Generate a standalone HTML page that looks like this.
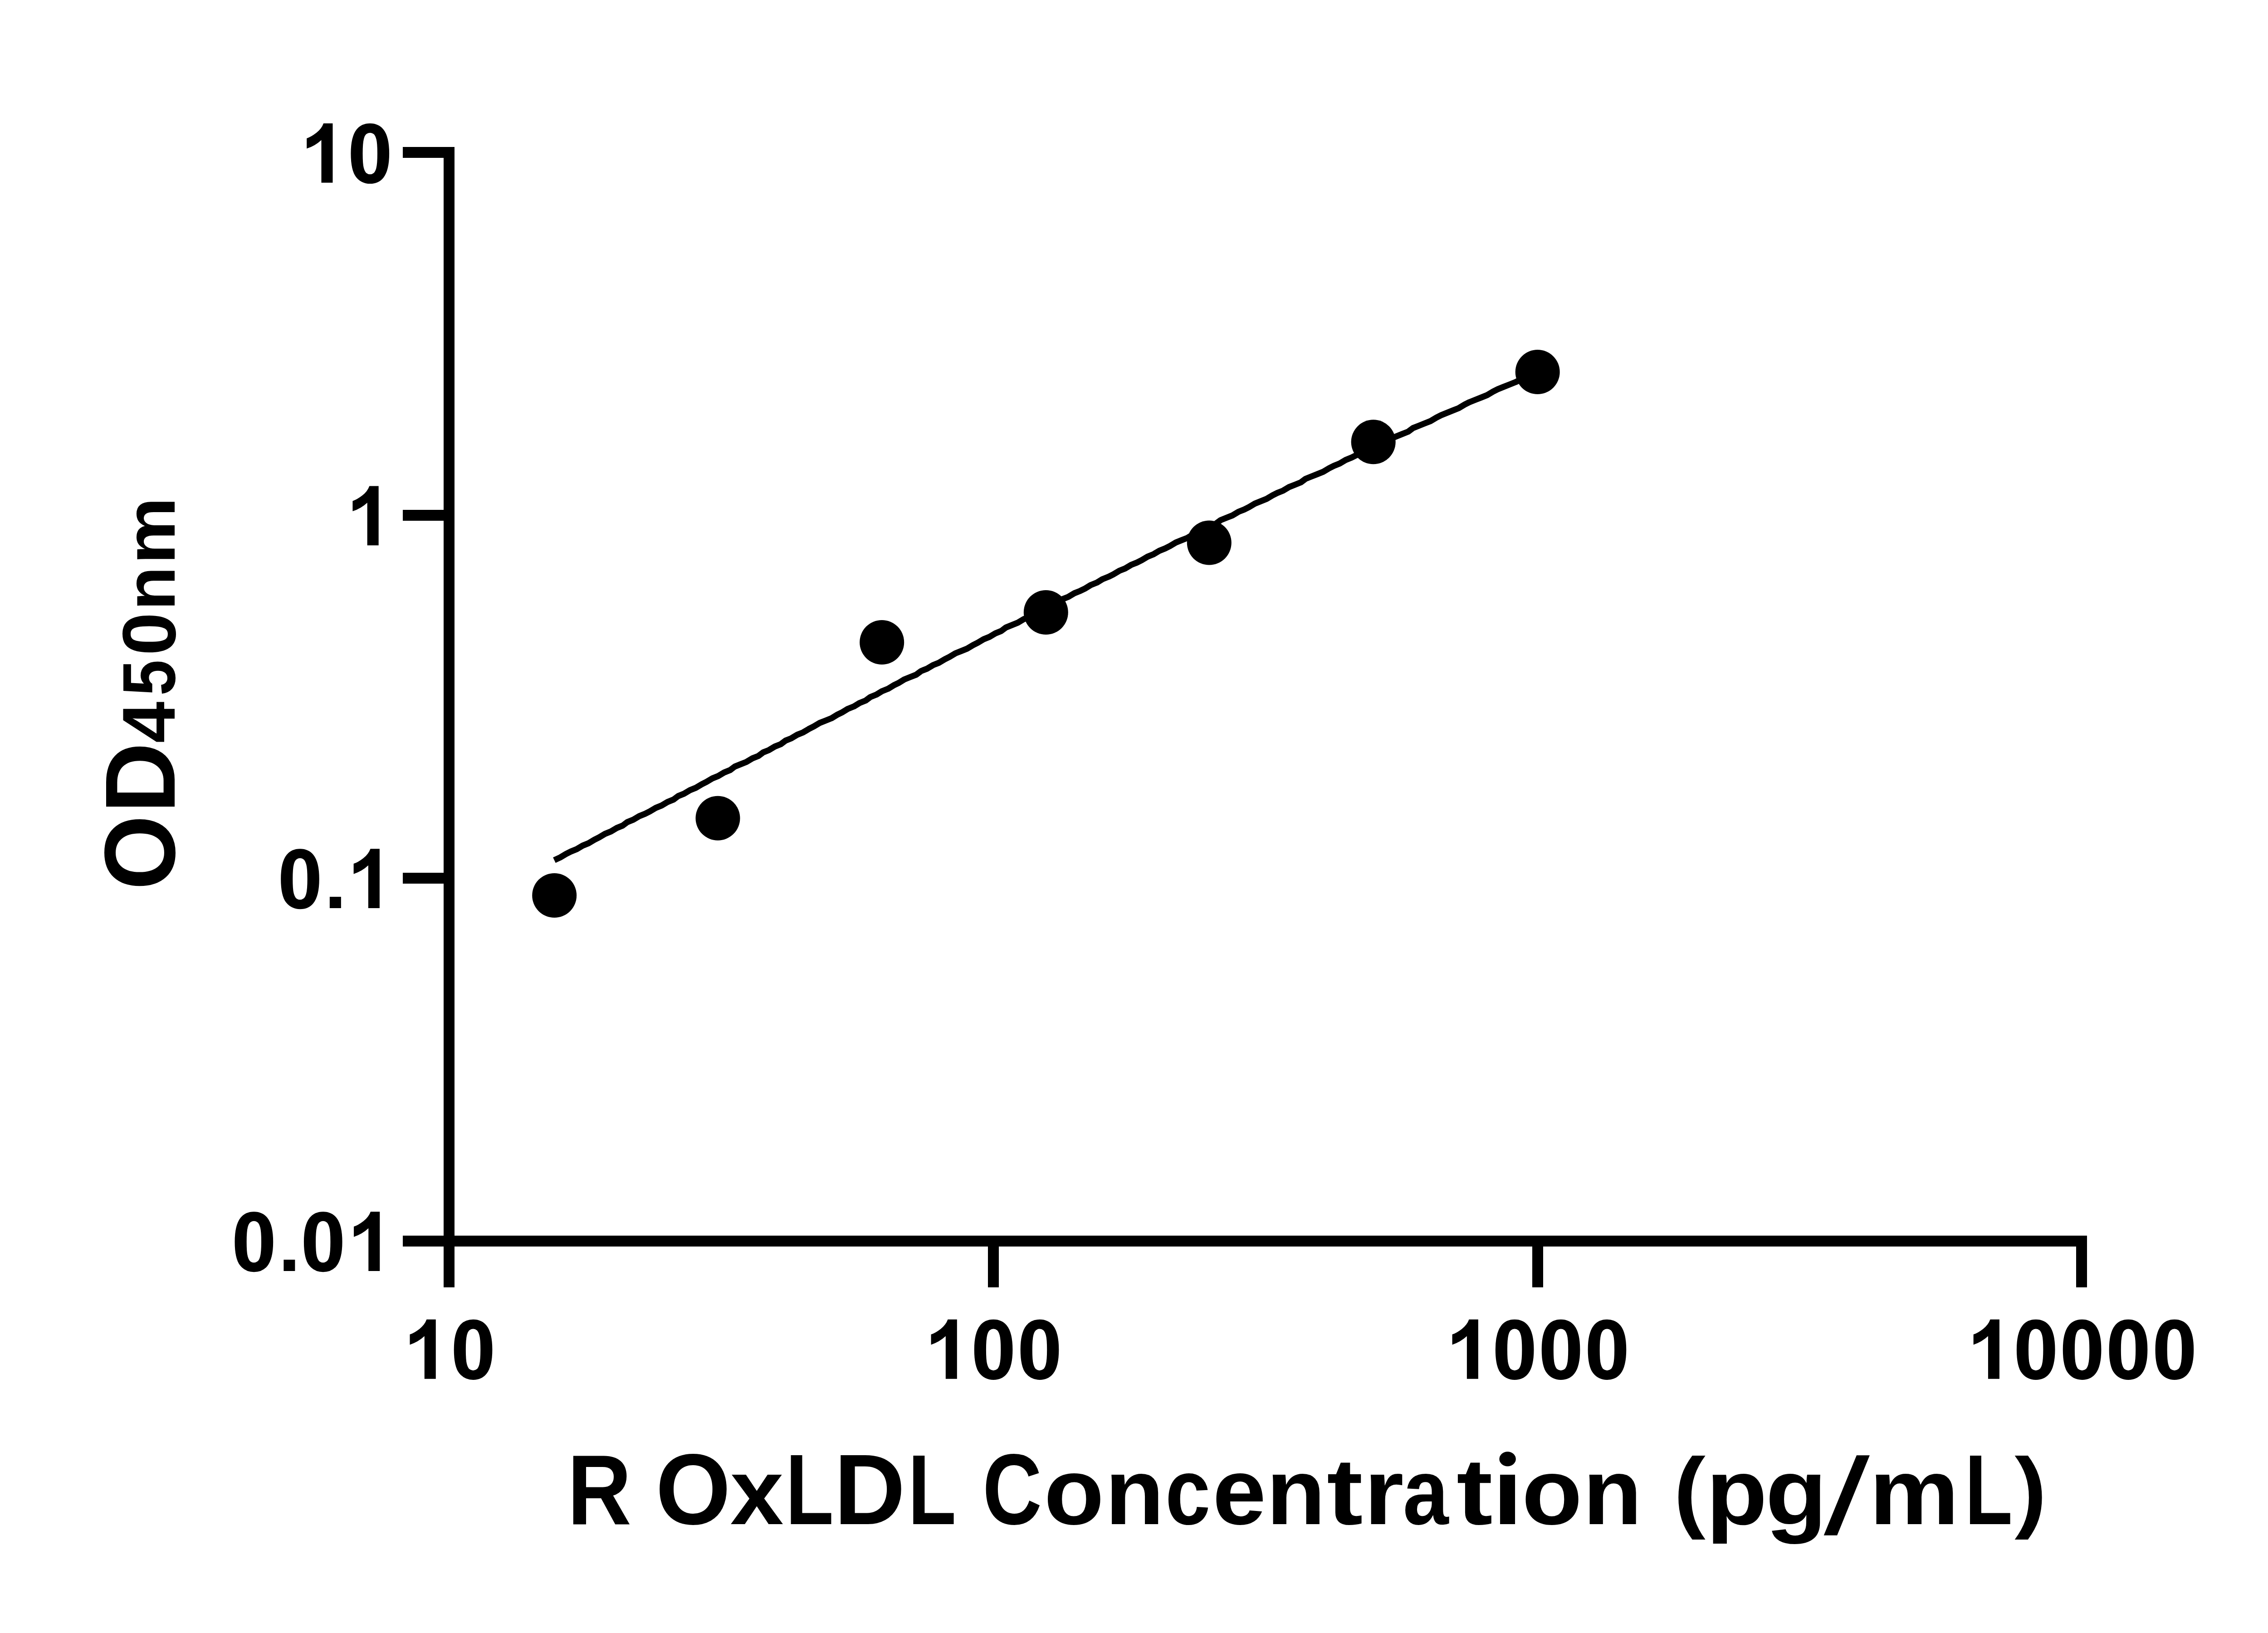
<!DOCTYPE html>
<html lang="en"><head><meta charset="utf-8"><title>R OxLDL standard curve</title>
<style>
html,body{margin:0;padding:0;background:#fff;}
body{width:5142px;height:3600px;overflow:hidden;font-family:"Liberation Sans",sans-serif;}
svg{display:block;}
.t text{font-family:"Liberation Sans",sans-serif;font-weight:700;font-size:2048px;fill:#000;}
.ax{fill:#000;}
.tl{font-family:"Liberation Sans",sans-serif;font-weight:700;font-size:190px;fill:none;stroke:none;}
</style></head><body>
<svg width="5142" height="3600" viewBox="0 0 5142 3600">
<defs>
<path id="d1" d="M806 0H525V1059Q371 915 162 846V1101Q272 1137 401 1237.5Q530 1338 578 1472H806Z"/>
<path id="d0" d="M563 1472Q776 1472 896 1320Q1039 1140 1039 723Q1039 307 895 125Q776 -25 563 -25Q349 -25 218 139.5Q87 304 87 726Q87 1140 231 1322Q350 1472 563 1472ZM563 1239Q512 1239 472 1206.5Q432 1174 410 1090Q381 981 381 723Q381 465 407 368.5Q433 272 472.5 240Q512 208 563 208Q614 208 654 240.5Q694 273 716 357Q745 465 745 723Q745 981 719 1077.5Q693 1174 653.5 1206.5Q614 1239 563 1239Z"/>
<path id="dp" d="M147 0V281H428V0Z"/>
<clipPath id="ci"><rect x="3295" y="3242" width="60" height="130"/></clipPath>
</defs>
<rect width="5142" height="3600" fill="#fff"/>
<g class="ax">
<rect x="978.0" y="324.0" width="24.0" height="2514.0"/>
<rect x="888" y="2724.0" width="3713" height="24.0"/>
<rect x="888" y="324.0" width="102.0" height="24.0"/>
<rect x="888" y="1124.0" width="102.0" height="24.0"/>
<rect x="888" y="1924.0" width="102.0" height="24.0"/>
<rect x="2178.0" y="2736.0" width="24.0" height="102.0"/>
<rect x="3378.0" y="2736.0" width="24.0" height="102.0"/>
<rect x="4577.0" y="2736.0" width="24.0" height="102.0"/>
</g>
<polyline points="1222.0,1896.3 1235.0,1890.2 1248.0,1882.4 1258.4,1877.2 1271.4,1872.0 1284.4,1864.2 1297.4,1859.0 1310.4,1851.2 1320.8,1846.0 1333.8,1838.2 1346.8,1833.0 1359.8,1825.2 1372.8,1820.0 1383.2,1812.2 1396.2,1807.0 1409.2,1799.2 1422.2,1794.0 1432.6,1788.8 1445.6,1781.0 1458.6,1775.8 1471.6,1768.0 1484.6,1762.8 1495.0,1755.0 1508.0,1749.8 1521.0,1742.0 1534.0,1736.8 1547.0,1729.0 1557.4,1723.8 1570.4,1716.0 1583.4,1710.8 1596.4,1703.0 1609.4,1697.8 1619.8,1690.0 1632.8,1684.8 1645.8,1679.6 1658.8,1671.8 1671.8,1666.6 1682.2,1658.8 1695.2,1653.6 1708.2,1645.8 1721.2,1640.6 1731.6,1632.8 1744.6,1627.6 1757.6,1619.8 1770.6,1614.6 1783.6,1606.8 1794.0,1601.6 1807.0,1593.8 1820.0,1588.6 1833.0,1583.4 1846.0,1575.6 1856.4,1570.4 1869.4,1562.6 1882.4,1557.4 1895.4,1549.6 1908.4,1544.4 1918.8,1536.6 1931.8,1531.4 1944.8,1523.6 1957.8,1518.4 1970.8,1510.6 1981.2,1505.4 1994.2,1497.6 2007.2,1492.4 2020.2,1487.2 2030.6,1479.4 2043.6,1474.2 2056.6,1466.4 2069.6,1461.2 2082.6,1453.4 2093.0,1448.2 2106.0,1440.4 2119.0,1435.2 2132.0,1430.0 2145.0,1422.2 2155.4,1417.0 2168.4,1409.2 2181.4,1404.0 2194.4,1396.2 2207.4,1391.0 2217.8,1383.2 2230.8,1378.0 2243.8,1372.8 2256.8,1365.0 2269.8,1359.8 2280.2,1352.0 2293.2,1346.8 2306.2,1339.0 2319.2,1333.8 2332.2,1328.6 2342.6,1320.8 2355.6,1315.6 2368.6,1307.8 2381.6,1302.6 2392.0,1297.4 2405.0,1289.6 2418.0,1284.4 2431.0,1276.6 2444.0,1271.4 2454.4,1266.2 2467.4,1258.4 2480.4,1253.2 2493.4,1245.4 2506.4,1240.2 2516.8,1235.0 2529.8,1227.2 2542.8,1222.0 2555.8,1214.2 2568.8,1209.0 2579.2,1203.8 2592.2,1196.0 2605.2,1190.8 2618.2,1185.6 2631.2,1177.8 2641.6,1172.6 2654.6,1164.8 2667.6,1159.6 2680.6,1154.4 2691.0,1146.6 2704.0,1141.4 2717.0,1136.2 2730.0,1128.4 2743.0,1123.2 2753.4,1118.0 2766.4,1110.2 2779.4,1105.0 2792.4,1099.8 2805.4,1092.0 2815.8,1086.8 2828.8,1081.6 2841.8,1073.8 2854.8,1068.6 2867.8,1063.4 2878.2,1055.6 2891.2,1050.4 2904.2,1045.2 2917.2,1040.0 2930.2,1032.2 2940.6,1027.0 2953.6,1021.8 2966.6,1014.0 2979.6,1008.8 2990.0,1003.6 3003.0,998.4 3016.0,990.6 3029.0,985.4 3042.0,980.2 3052.4,975.0 3065.4,967.2 3078.4,962.0 3091.4,956.8 3104.4,951.6 3114.8,943.8 3127.8,938.6 3140.8,933.4 3153.8,928.2 3166.8,920.4 3177.2,915.2 3190.2,910.0 3203.2,904.8 3216.2,899.6 3229.2,891.8 3239.6,886.6 3252.6,881.4 3265.6,876.2 3278.6,871.0 3291.6,863.2 3302.0,858.0 3315.0,852.8 3328.0,847.6 3341.0,842.4 3351.4,837.2 3364.4,829.4 3377.4,824.2 3390.0,819.3" fill="none" stroke="#000" stroke-width="13.4" stroke-linecap="butt" stroke-linejoin="round"/>
<circle cx="1222.2" cy="1974.0" r="49" fill="#000"/>
<circle cx="1582.5" cy="1803.7" r="49" fill="#000"/>
<circle cx="1944.2" cy="1416.0" r="49" fill="#000"/>
<circle cx="2305.8" cy="1350.0" r="49" fill="#000"/>
<circle cx="2665.8" cy="1196.5" r="49" fill="#000"/>
<circle cx="3027.7" cy="974.3" r="49" fill="#000"/>
<circle cx="3389.7" cy="820.1" r="49" fill="#000"/>
<g class="lbl" aria-label="10">
<text class="tl" x="661.8" y="402.8" textLength="203.8" lengthAdjust="spacingAndGlyphs">10</text>
<use href="#d1" transform="translate(661.81 402.80) scale(0.08890 -0.08890)"/>
<use href="#d0" transform="translate(765.71 402.80) scale(0.08890 -0.08890)"/>
</g>
<g class="lbl" aria-label="1">
<text class="tl" x="763.0" y="1202.3" textLength="101.9" lengthAdjust="spacingAndGlyphs">1</text>
<use href="#d1" transform="translate(763.01 1202.30) scale(0.08890 -0.08890)"/>
</g>
<g class="lbl" aria-label="0.1">
<text class="tl" x="612.4" y="2002.0" textLength="254.7" lengthAdjust="spacingAndGlyphs">0.1</text>
<use href="#d0" transform="translate(611.41 2002.00) scale(0.08890 -0.08890)"/>
<use href="#dp" transform="translate(713.80 2002.00) scale(0.08890 -0.08890)"/>
<use href="#d1" transform="translate(765.21 2002.00) scale(0.08890 -0.08890)"/>
</g>
<g class="lbl" aria-label="0.01">
<text class="tl" x="511.4" y="2802.0" textLength="356.6" lengthAdjust="spacingAndGlyphs">0.01</text>
<use href="#d0" transform="translate(509.81 2802.00) scale(0.08890 -0.08890)"/>
<use href="#dp" transform="translate(612.31 2802.00) scale(0.08890 -0.08890)"/>
<use href="#d0" transform="translate(662.21 2802.00) scale(0.08890 -0.08890)"/>
<use href="#d1" transform="translate(765.61 2802.00) scale(0.08890 -0.08890)"/>
</g>
<g class="lbl" aria-label="10">
<text class="tl" x="889.1" y="3039.7" textLength="203.8" lengthAdjust="spacingAndGlyphs">10</text>
<use href="#d1" transform="translate(889.11 3039.70) scale(0.08890 -0.08890)"/>
<use href="#d0" transform="translate(993.00 3039.70) scale(0.08890 -0.08890)"/>
</g>
<g class="lbl" aria-label="100">
<text class="tl" x="2038.2" y="3039.7" textLength="305.7" lengthAdjust="spacingAndGlyphs">100</text>
<use href="#d1" transform="translate(2038.16 3039.70) scale(0.08890 -0.08890)"/>
<use href="#d0" transform="translate(2140.05 3039.70) scale(0.08890 -0.08890)"/>
<use href="#d0" transform="translate(2241.95 3039.70) scale(0.08890 -0.08890)"/>
</g>
<g class="lbl" aria-label="1000">
<text class="tl" x="3187.2" y="3039.7" textLength="407.6" lengthAdjust="spacingAndGlyphs">1000</text>
<use href="#d1" transform="translate(3187.21 3039.70) scale(0.08890 -0.08890)"/>
<use href="#d0" transform="translate(3289.11 3039.70) scale(0.08890 -0.08890)"/>
<use href="#d0" transform="translate(3391.00 3039.70) scale(0.08890 -0.08890)"/>
<use href="#d0" transform="translate(3492.89 3039.70) scale(0.08890 -0.08890)"/>
</g>
<g class="lbl" aria-label="10000">
<text class="tl" x="4336.3" y="3039.7" textLength="509.5" lengthAdjust="spacingAndGlyphs">10000</text>
<use href="#d1" transform="translate(4336.26 3039.70) scale(0.08890 -0.08890)"/>
<use href="#d0" transform="translate(4438.16 3039.70) scale(0.08890 -0.08890)"/>
<use href="#d0" transform="translate(4540.05 3039.70) scale(0.08890 -0.08890)"/>
<use href="#d0" transform="translate(4641.95 3039.70) scale(0.08890 -0.08890)"/>
<use href="#d0" transform="translate(4743.84 3039.70) scale(0.08890 -0.08890)"/>
</g>
<g class="t" aria-label="R OxLDL Concentration (pg/mL)">
<text transform="matrix(0.095538 0 0 0.107381 1250.71 3359.60)">R</text>
<text transform="matrix(0.103795 0 0 0.107862 1445.38 3360.14)">O</text>
<text transform="matrix(0.103423 0 0 0.100370 1609.85 3359.60)">x</text>
<text transform="matrix(0.084586 0 0 0.107381 1732.01 3359.60)">L</text>
<text transform="matrix(0.106210 0 0 0.107381 1838.65 3359.60)">D</text>
<text transform="matrix(0.084872 0 0 0.107381 2001.67 3359.60)">L</text>
<text transform="matrix(0.088350 0 0 0.107862 2166.28 3360.14)">C</text>
<text transform="matrix(0.105958 0 0 0.101070 2301.62 3360.28)">o</text>
<text transform="matrix(0.104044 0 0 0.100363 2436.15 3359.60)">n</text>
<text transform="matrix(0.087287 0 0 0.101070 2569.12 3360.28)">c</text>
<text transform="matrix(0.103539 0 0 0.101070 2673.32 3360.28)">e</text>
<text transform="matrix(0.104247 0 0 0.100363 2791.83 3359.60)">n</text>
<text transform="matrix(0.116614 0 0 0.101182 2924.98 3360.48)">t</text>
<text transform="matrix(0.109984 0 0 0.100363 3007.05 3359.60)">r</text>
<text transform="matrix(0.088553 0 0 0.101070 3092.69 3360.28)">a</text>
<text transform="matrix(0.116930 0 0 0.101182 3210.98 3360.48)">t</text>
<g clip-path="url(#ci)">
<text transform="matrix(0.117438 0 0 0.100370 3290.21 3359.60)">i</text>
</g>
<ellipse cx="3323.6" cy="3216.4" rx="18.2" ry="16.2"/>
<text transform="matrix(0.106416 0 0 0.101070 3354.99 3360.28)">o</text>
<text transform="matrix(0.104044 0 0 0.100363 3489.85 3359.60)">n</text>
<text transform="matrix(0.102768 0 0 0.097224 3689.72 3352.58)">(</text>
<text transform="matrix(0.107752 0 0 0.100800 3761.25 3360.28)">p</text>
<text transform="matrix(0.108350 0 0 0.100363 3892.20 3359.60)">g</text>
<text transform="matrix(0.1212 0 -0.024348 0.115869 4019.27 3380.25)">/</text>
<text transform="matrix(0.108788 0 0 0.100363 4120.91 3359.60)">m</text>
<text transform="matrix(0.084301 0 0 0.107381 4331.45 3359.60)">L</text>
<text transform="matrix(0.103633 0 0 0.097224 4441.39 3352.58)">)</text>
</g>
<g class="t" aria-label="OD450nm" transform="translate(0 1953.4) rotate(-90)">
<text transform="matrix(0.103514 0 0 0.107931 -8.70 385.24)">O</text>
<text transform="matrix(0.105414 0 0 0.107168 160.66 384.50)">D</text>
<text transform="matrix(0.080128 0 0 0.080767 315.32 384.50)">4</text>
<text transform="matrix(0.069480 0 0 0.080756 419.72 385.38)">5</text>
<text transform="matrix(0.083368 0 0 0.081517 508.45 385.87)">0</text>
<text transform="matrix(0.077553 0 0 0.075703 607.73 384.50)">n</text>
<text transform="matrix(0.081334 0 0 0.075703 709.32 384.50)">m</text>
</g>
</svg>
</body></html>
